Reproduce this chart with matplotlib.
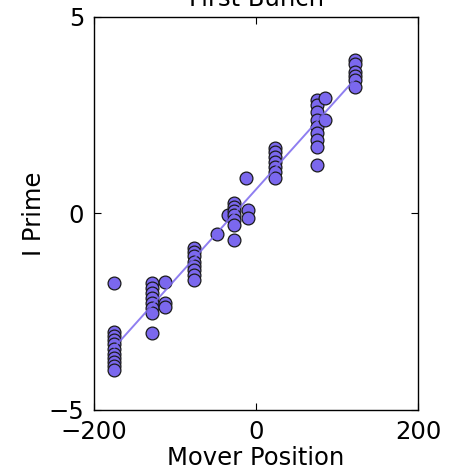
import numpy as np
import matplotlib
matplotlib.use("Agg")
import matplotlib.pyplot as plt

# Mover position (x) and I prime (y) samples, grouped by mover setting
mover_x = (
    [-175] * 11
    + [-128] * 8
    + [-112] * 3
    + [-77] * 8
    + [-48, -35]
    + [-27] * 7
    + [-12, -10, -10]
    + [23] * 7
    + [75] * 9
    + [85, 85]
    + [122] * 6
)
i_prime = (
    [-1.77, -3.02, -3.12, -3.22, -3.33, -3.45, -3.58, -3.68, -3.78, -3.88, -3.98]
    + [-1.77, -1.90, -2.02, -2.15, -2.28, -2.40, -2.53, -3.04]
    + [-1.74, -2.28, -2.38]
    + [-0.88, -0.98, -1.08, -1.23, -1.34, -1.44, -1.56, -1.69]
    + [-0.52, -0.04]
    + [0.27, 0.17, 0.06, -0.04, -0.17, -0.29, -0.67]
    + [0.90, 0.09, -0.11]
    + [1.67, 1.56, 1.44, 1.31, 1.18, 1.06, 0.90]
    + [2.89, 2.76, 2.58, 2.38, 2.20, 2.05, 1.87, 1.69, 1.23]
    + [2.94, 2.38]
    + [3.91, 3.80, 3.60, 3.49, 3.40, 3.22]
)

x_ticks = [-200, 0, 200]
y_ticks = [-5, 0, 5]

x = np.array(mover_x, dtype=float)
y = np.array(i_prime, dtype=float)

fig = plt.figure(figsize=(4.54, 4.70), dpi=100)
ax = fig.add_axes([0.207, 0.128, 0.714, 0.836])

color = "#7B68EE"
ax.scatter(x, y, s=85, c=color, edgecolors="#1a1a1a", linewidths=0.9, zorder=2)

# least-squares fit across the sampled range
slope, intercept = np.polyfit(x, y, 1)
xf = np.array([x.min(), x.max()])
ax.plot(xf, slope * xf + intercept, color=color, alpha=0.85, lw=1.4, zorder=3)

ax.set_xlim(-200, 200)
ax.set_ylim(-5, 5)
ax.set_xticks(x_ticks)
ax.set_yticks(y_ticks)
ax.tick_params(direction="in", length=5, width=0.8, top=True, right=True,
               labelsize=17.5, pad=7)
for s in ax.spines.values():
    s.set_linewidth(1.0)

ax.set_xlabel("Mover Position", fontsize=17.5, labelpad=2)
ax.set_ylabel("I Prime", fontsize=17.5, labelpad=2)
ax.set_title("First Bunch", fontsize=17.5, pad=8)

fig.savefig("out.png", dpi=100)
